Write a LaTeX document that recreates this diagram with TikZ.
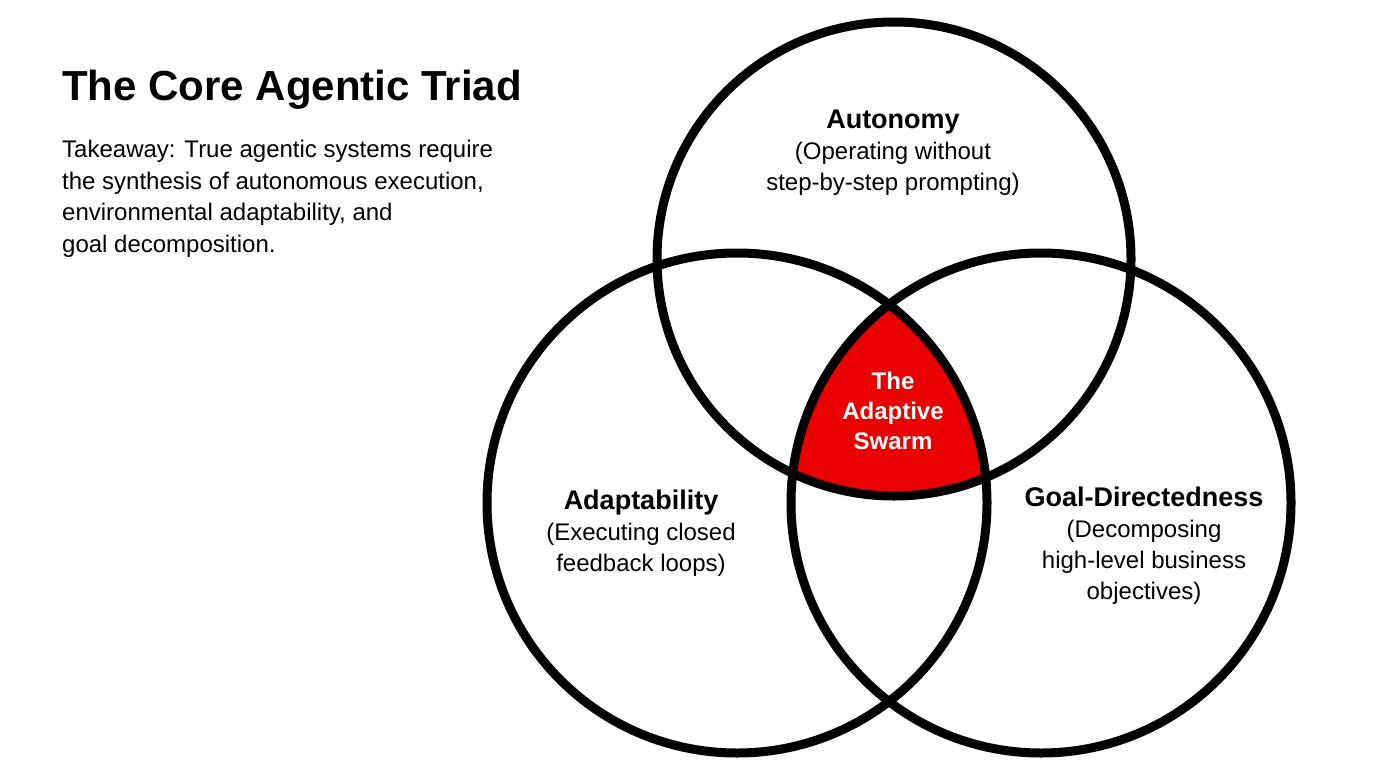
\documentclass[tikz,border=0pt]{standalone}
\usepackage{fontspec}
\setmainfont{Liberation Sans}
\begin{document}
\begin{tikzpicture}[x=1pt,y=-1pt,
  ring/.style={draw=black,line width=9pt},
  lbl/.style={align=center,font=\fontsize{24}{31}\selectfont,inner sep=0pt}]
\useasboundingbox[fill=white] (0,0) rectangle (1376,768);
\coordinate (A) at (894,259);
\coordinate (L) at (737,503);
\coordinate (R) at (1041,503);
\begin{scope}
\clip (A) circle[radius=237];
\clip (L) circle[radius=250];
\fill[red!92!black] (R) circle[radius=250];
\end{scope}
\draw[ring] (A) circle[radius=237];
\draw[ring] (L) circle[radius=250];
\draw[ring] (R) circle[radius=250];
\node[anchor=base west,inner sep=0pt,font=\fontsize{42}{50}\selectfont\bfseries] (title) at (62,100) {The Core Agentic Triad};
\node[anchor=north west,align=left,inner sep=0pt,font=\fontsize{24}{31.5}\selectfont] (take) at (62,140) {Takeaway: True agentic systems require\\the synthesis of autonomous execution,\\environmental adaptability, and\\goal decomposition.};
\node[lbl] (au) at (893,153) {{\bfseries\fontsize{27}{31}\selectfont Autonomy}\\(Operating without\\step-by-step prompting)};
\node[lbl] (ad) at (641,533) {{\bfseries\fontsize{27}{31}\selectfont Adaptability}\\(Executing closed\\feedback loops)};
\node[lbl] (gd) at (1144,546) {{\bfseries\fontsize{27}{31}\selectfont Goal-Directedness}\\(Decomposing\\high-level business\\objectives)};
\node[lbl,text=white,font=\fontsize{24}{30}\selectfont\bfseries] (sw) at (893,411) {The\\Adaptive\\Swarm};
\end{tikzpicture}
\end{document}
